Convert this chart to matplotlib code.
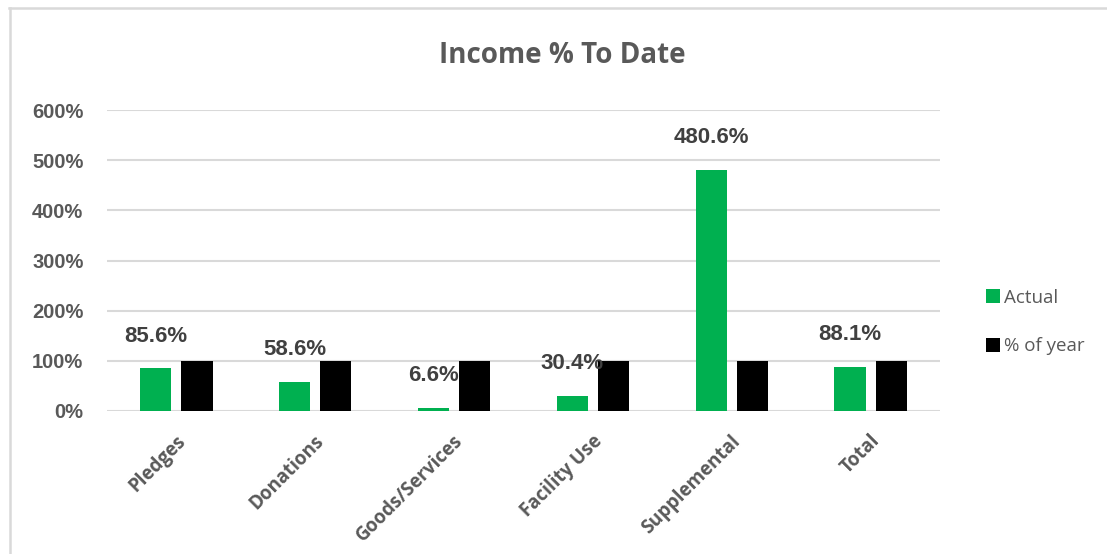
import matplotlib
matplotlib.use("Agg")
import matplotlib.pyplot as plt
from matplotlib.lines import Line2D
from matplotlib.patches import Patch
import matplotlib.transforms as mtransforms
import numpy as np

categories = ["Pledges", "Donations", "Goods/Services", "Facility Use", "Supplemental", "Total"]
actual = [85.6, 58.6, 6.6, 30.4, 480.6, 88.1]
pct_of_year = [100, 100, 100, 100, 100, 100]
yticks = [0, 100, 200, 300, 400, 500, 600]
series_names = ["Actual", "% of year"]
title = "Income % To Date"

W, H = 1107, 554
fig = plt.figure(figsize=(W / 100, H / 100), dpi=100)
fig.patch.set_facecolor("white")

def px(x, y):
    return x / W, 1 - y / H

left, right, top, bottom = 107, 940, 110, 411
ax = fig.add_axes([left / W, 1 - bottom / H, (right - left) / W, (bottom - top) / H])

GREEN = "#00B050"
BLACK = "#000000"
GRID = "#D9D9D9"
TXT = "#595959"

x = np.arange(len(categories))
bw = 0.225
off = 0.148
ax.bar(x - off, actual, width=bw, color=GREEN, zorder=3)
ax.bar(x + off, pct_of_year, width=bw, color=BLACK, zorder=3)

ax.set_xlim(-0.5, len(categories) - 0.5)
ax.set_ylim(0, 600)
ax.set_yticks(yticks)
ax.set_yticklabels([f"{v}%" for v in yticks], family="Liberation Sans", weight="bold",
                   fontsize=14.5, color=TXT)
ax.tick_params(axis="y", length=0, pad=17)
ax.set_xticks([])
for s in ax.spines.values():
    s.set_visible(False)
for v in yticks:
    ax.axhline(v, color=GRID, lw=1.5, zorder=1)

# data labels
for xi, v in zip(x, actual):
    ax.annotate(f"{v}%", (xi - off, v), xytext=(0, 23), textcoords="offset points",
                ha="center", va="center", family="Liberation Sans", weight="bold",
                fontsize=16, color="#404040", zorder=4)

# category labels
for xi, c in zip(x, categories):
    tr = mtransforms.blended_transform_factory(ax.transData, ax.transAxes) + \
        mtransforms.ScaledTranslation(6 / 100, -27 / 100, fig.dpi_scale_trans)
    ax.text(xi, 0, c, transform=tr, rotation=45, rotation_mode="anchor",
            ha="right", va="center", family="Open Sans", weight="bold",
            fontsize=13.5, color=TXT)

# title
tx, ty = px(562, 63.3)
fig.text(tx, ty, title, ha="center", va="baseline", family="Open Sans", weight="bold",
         fontsize=20, color=TXT)

# legend
handles = [Patch(facecolor=GREEN, edgecolor="none"), Patch(facecolor=BLACK, edgecolor="none")]
lx, ly = px(986, 322)
fig.legend(handles, series_names, loc="center left", bbox_to_anchor=(lx, ly),
           frameon=False, prop={"family": "Open Sans", "size": 13.5},
           handlelength=0.72, handleheight=0.72, handletextpad=0.25, labelspacing=1.65,
           labelcolor=TXT, borderpad=0, borderaxespad=0)

# outer chart border (partially cropped)
fig.add_artist(Line2D([9 / W, 1.0], [1 - 8 / H, 1 - 8 / H], transform=fig.transFigure,
                      color=GRID, lw=1.8))
fig.add_artist(Line2D([9.5 / W, 9.5 / W], [1 - 8 / H, 0], transform=fig.transFigure,
                      color=GRID, lw=1.8))

fig.savefig("out.png", dpi=100, facecolor="white")
